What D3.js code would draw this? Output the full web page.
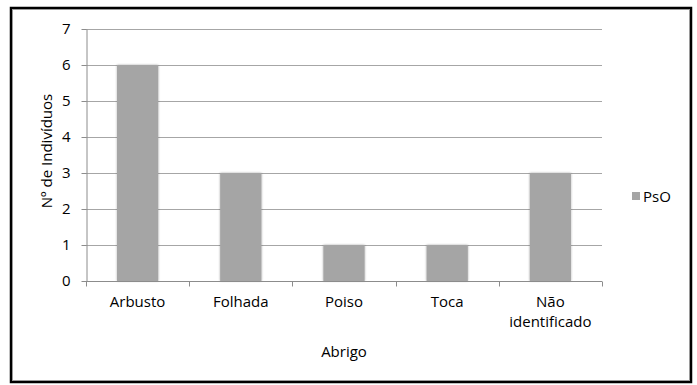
<!DOCTYPE html>
<html>
<head>
<meta charset="utf-8">
<script src="https://cdn.jsdelivr.net/npm/d3@7"></script>
<style>
  html, body { margin: 0; padding: 0; background: #fff; }
  svg { display: block; }
  text { font-family: "Open Sans", "Noto Sans", sans-serif; fill: #000; }
</style>
</head>
<body>
<svg id="chart" width="697" height="385"></svg>
<script>
// Shelter types and number of individuals (series PsO)
const categories = ["Arbusto", "Folhada", "Poiso", "Toca", "Não identificado"];
const seriesName = "PsO";
const values = [6, 3, 1, 1, 3];
const yTicks = [0, 1, 2, 3, 4, 5, 6, 7];

const svg = d3.select("#chart");
const plot = { left: 86, right: 602, top: 29, bottom: 281 };
const fs = "15px";

// outer frame
svg.append("rect").attr("x", 11).attr("y", 8).attr("width", 680).attr("height", 374)
  .attr("fill", "#fff").attr("stroke", "#000").attr("stroke-width", 2.5);
svg.append("rect").attr("x", 12.5).attr("y", 9.5).attr("width", 677).attr("height", 371)
  .attr("fill", "none").attr("stroke", "#9a9a9a").attr("stroke-width", 1);

const x = d3.scaleBand().domain(categories).range([plot.left, plot.right]).paddingInner(0).paddingOuter(0);
const y = d3.scaleLinear().domain([0, 7]).range([plot.bottom, plot.top]);

// horizontal gridlines
svg.append("g").selectAll("line").data(yTicks.filter(d => d > 0)).join("line")
  .attr("x1", plot.left).attr("x2", plot.right)
  .attr("y1", d => Math.round(y(d)) + 0.5).attr("y2", d => Math.round(y(d)) + 0.5)
  .attr("stroke", "#a6a6a6").attr("stroke-width", 1);

// soft shadow for bars
const defs = svg.append("defs");
const f = defs.append("filter").attr("id", "barShadow").attr("x", "-20%").attr("y", "-5%").attr("width", "140%").attr("height", "110%");
f.append("feGaussianBlur").attr("in", "SourceAlpha").attr("stdDeviation", 1.2).attr("result", "b");
f.append("feComponentTransfer").attr("in", "b").attr("result", "s")
  .append("feFuncA").attr("type", "linear").attr("slope", 0.35);
const m = f.append("feMerge");
m.append("feMergeNode").attr("in", "s");
m.append("feMergeNode").attr("in", "SourceGraphic");

const barW = x.bandwidth() / 2.5;
svg.append("g").selectAll("rect").data(values).join("rect")
  .attr("x", (d, i) => x(categories[i]) + (x.bandwidth() - barW) / 2)
  .attr("y", d => y(d))
  .attr("width", barW)
  .attr("height", d => y(0) - y(d))
  .attr("fill", "#a5a5a5")
  .attr("filter", "url(#barShadow)");

// y axis
const yAxis = d3.axisLeft(y).tickValues(yTicks).tickFormat(d3.format("d"))
  .tickSize(5).tickSizeOuter(0).tickPadding(11);
const gy = svg.append("g").attr("transform", `translate(${plot.left + 0.5},0)`).call(yAxis);
gy.select(".domain").attr("stroke", "#8c8c8c");
gy.selectAll(".tick line").attr("stroke", "#8c8c8c");
gy.selectAll(".tick text").style("font-size", fs).attr("fill", "#000");

// x axis: ticks at category boundaries
const gx = svg.append("g").attr("transform", `translate(0,${plot.bottom + 0.5})`);
gx.append("line").attr("x1", plot.left).attr("x2", plot.right).attr("stroke", "#8c8c8c");
const bounds = categories.map(c => x(c)).concat([plot.right]);
gx.selectAll("line.tk").data(bounds).join("line").attr("class", "tk")
  .attr("x1", d => Math.round(d) + 0.5).attr("x2", d => Math.round(d) + 0.5)
  .attr("y1", 0).attr("y2", 5).attr("stroke", "#8c8c8c");
gx.selectAll("text").data(categories).join("text")
  .attr("x", d => x(d) + x.bandwidth() / 2)
  .attr("text-anchor", "middle")
  .style("font-size", fs)
  .each(function (d) {
    const words = d === "Não identificado" ? ["Não", "identificado"] : [d];
    d3.select(this).selectAll("tspan").data(words).join("tspan")
      .attr("x", x(d) + x.bandwidth() / 2)
      .attr("y", (w, i) => 25 + i * 20)
      .text(w => w);
  });

// axis titles
svg.append("text").attr("x", (plot.left + plot.right) / 2).attr("y", 357)
  .attr("text-anchor", "middle").style("font-size", fs).text("Abrigo");
svg.append("text").attr("transform", `translate(52,151) rotate(-90)`)
  .attr("text-anchor", "middle").style("font-size", fs).text("Nº de Indivíduos");

// legend
const lg = svg.append("g").attr("transform", "translate(632,192)");
lg.append("rect").attr("x", 0).attr("y", 0).attr("width", 8).attr("height", 8).attr("fill", "#a5a5a5");
lg.append("text").attr("x", 11).attr("y", 10).style("font-size", fs).text(seriesName);
</script>
</body>
</html>
